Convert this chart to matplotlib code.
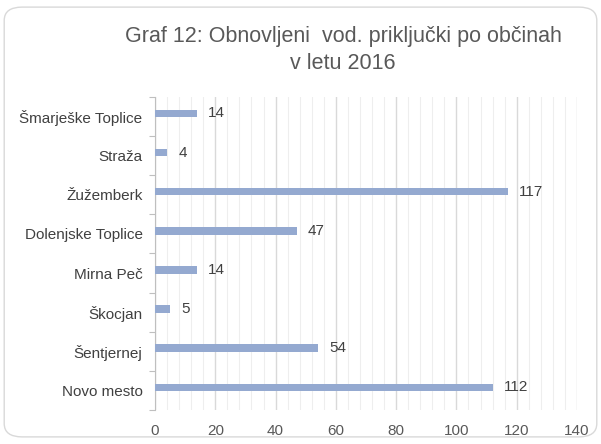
import numpy as np
import matplotlib.pyplot as plt
from matplotlib.patches import FancyBboxPatch
from matplotlib.ticker import MultipleLocator, FixedLocator

plt.rcParams['font.family'] = ['Liberation Sans', 'DejaVu Sans']

# data (bottom to top)
obcine = ["Novo mesto", "Šentjernej", "Škocjan", "Mirna Peč",
          "Dolenjske Toplice", "Žužemberk", "Straža", "Šmarješke Toplice"]
prikljucki = [112, 54, 5, 14, 47, 117, 4, 14]
x_ticks = [0, 20, 40, 60, 80, 100, 120, 140]

fig = plt.figure(figsize=(6.01, 4.44), dpi=100)

# rounded frame around the chart
frame = FancyBboxPatch((0.007, 0.016), 0.986, 0.968,
                       boxstyle="round,pad=0,rounding_size=0.03",
                       transform=fig.transFigure, facecolor="none",
                       edgecolor="#d9d9d9", linewidth=1.0, zorder=-1)
fig.patches.append(frame)

ax = fig.add_axes([0.258, 0.0766, 0.702, 0.705])
ax.set_facecolor("none")

y = np.arange(len(obcine))
bar_y = y + 0.08  # bars sit slightly above the category centre
ax.barh(bar_y, prikljucki, height=0.19, color="#94a9d0", zorder=3)
for yi, v in zip(bar_y, prikljucki):
    ax.annotate(str(v), (v, yi), xytext=(8, 0), textcoords="offset points",
                va="center", ha="left", fontsize=11, color="#404040")

ax.set_xlim(0, 140)
ax.set_ylim(-0.5, len(obcine) - 0.5)
ax.set_xticks(x_ticks)
ax.xaxis.set_minor_locator(MultipleLocator(4))
ax.grid(axis="x", which="major", color="#d9d9d9", linewidth=1.0, zorder=0)
ax.grid(axis="x", which="minor", color="#eeeeee", linewidth=0.8, zorder=0)
ax.tick_params(axis="x", which="both", length=0, labelsize=11, colors="#595959", pad=10)

ax.set_yticks(y)
ax.set_yticklabels(obcine)
ax.yaxis.set_minor_locator(FixedLocator(np.arange(-0.5, len(obcine), 1.0)))
ax.tick_params(axis="y", which="major", length=0, labelsize=11, colors="#404040", pad=9)
ax.tick_params(axis="y", which="minor", length=4, color="#bfbfbf", width=0.8)

for s in ["top", "right", "bottom"]:
    ax.spines[s].set_visible(False)
ax.spines["left"].set_color("#bfbfbf")
ax.spines["left"].set_linewidth(0.8)

fig.text(0.571, 0.917, "Graf 12: Obnovljeni  vod. priključki po občinah",
         ha="center", va="center", fontsize=15.5, color="#595959")
fig.text(0.571, 0.857, "v letu 2016", ha="center", va="center",
         fontsize=15.5, color="#595959")

fig.savefig("out.png", dpi=100)
